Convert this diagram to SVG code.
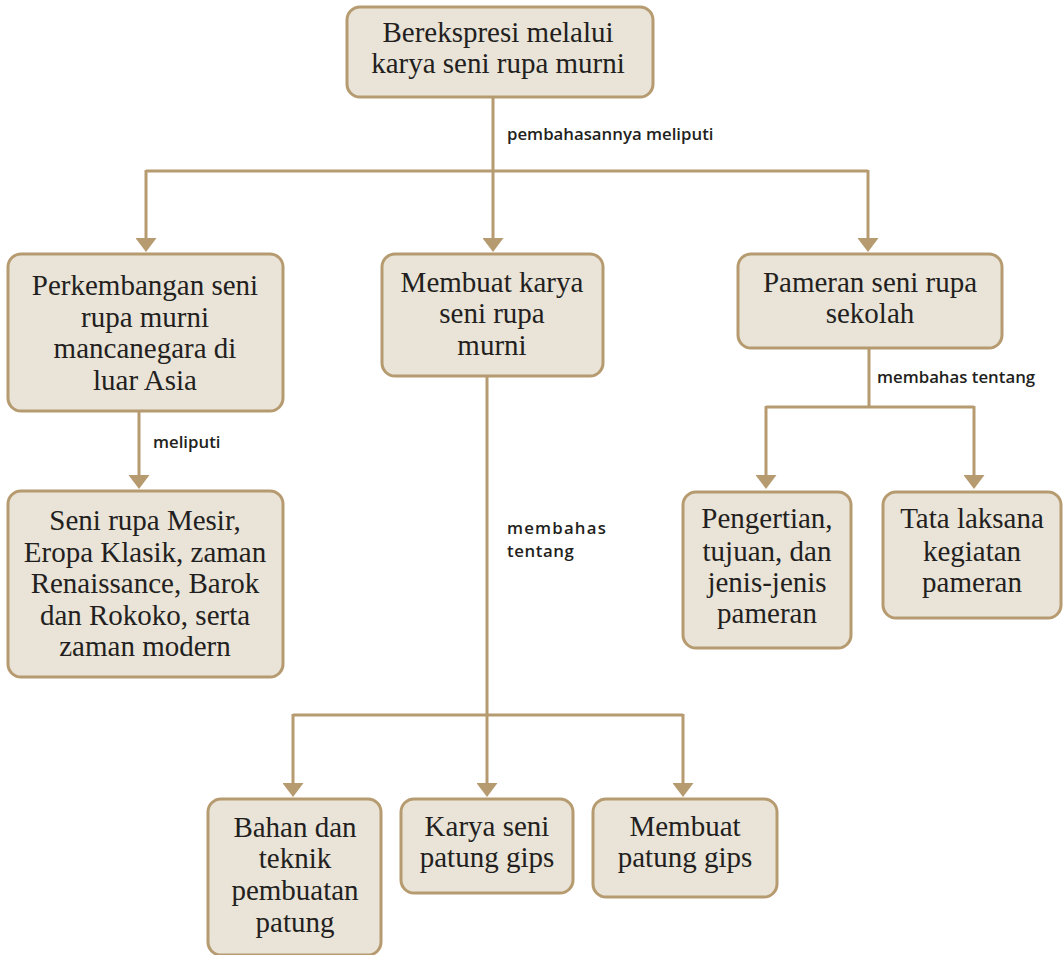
<svg xmlns="http://www.w3.org/2000/svg" width="1063" height="955" viewBox="0 0 1063 955">
<defs>
<marker id="arr" viewBox="0 0 14 21" refX="4" refY="10.5" markerWidth="14" markerHeight="21" markerUnits="userSpaceOnUse" orient="auto">
<path d="M0,0 L14,10.5 L0,21 Z" fill="#b69b70"/>
</marker>
<style>
.box{fill:#e9e3d8;stroke:#b69b70;stroke-width:3}
.t{font-family:"Liberation Serif","Times New Roman",serif;font-size:29px;fill:#231f20;text-anchor:middle}
.lab{font-family:"Open Sans","Liberation Sans",sans-serif;font-weight:600;font-size:16.8px;fill:#231f20}
.c{fill:none;stroke:#b69b70;stroke-width:3}
.a{marker-end:url(#arr)}
</style>
</defs>
<rect width="1063" height="955" fill="#ffffff"/>
<g id="connectors">
<path class="c" d="M493,98 V171 M146,171 H868"/>
<path class="c a" d="M146,170 V242"/>
<path class="c a" d="M493,170 V242"/>
<path class="c a" d="M868,170 V242"/>
<path class="c a" d="M139,411 V479"/>
<path class="c" d="M487,376 V715 M293,715 H683"/>
<path class="c a" d="M293,714 V787"/>
<path class="c a" d="M487,714 V787"/>
<path class="c a" d="M683,714 V787"/>
<path class="c" d="M869,348 V407 M766,407 H974"/>
<path class="c a" d="M766,406 V479"/>
<path class="c a" d="M974,406 V479"/>
<text class="lab" x="507" y="140">pembahasannya meliputi</text>
<text class="lab" x="153" y="448">meliputi</text>
<text class="lab" x="507" y="534" letter-spacing="1.2">membahas</text>
<text class="lab" x="507" y="557" letter-spacing="0.6">tentang</text>
<text class="lab" x="877" y="383">membahas tentang</text>
</g>
<g id="n-root">
<rect class="box" x="347" y="7" width="306" height="90" rx="13"/>
<text class="t" x="498" y="42">Berekspresi melalui</text>
<text class="t" x="498" y="73">karya seni rupa murni</text>
</g>
<g id="n-perkembangan">
<rect class="box" x="8" y="254" width="275" height="157" rx="13"/>
<text class="t" x="145" y="295">Perkembangan seni</text>
<text class="t" x="145" y="327">rupa murni</text>
<text class="t" x="145" y="358">mancanegara di</text>
<text class="t" x="145" y="390">luar Asia</text>
</g>
<g id="n-seni-rupa">
<rect class="box" x="8" y="491" width="275" height="186" rx="13"/>
<text class="t" x="145" y="530">Seni rupa Mesir,</text>
<text class="t" x="145" y="562">Eropa Klasik, zaman</text>
<text class="t" x="145" y="593">Renaissance, Barok</text>
<text class="t" x="145" y="625">dan Rokoko, serta</text>
<text class="t" x="145" y="656">zaman modern</text>
</g>
<g id="n-membuat-karya">
<rect class="box" x="382" y="254" width="221" height="122" rx="13"/>
<text class="t" x="492" y="292">Membuat karya</text>
<text class="t" x="492" y="323">seni rupa</text>
<text class="t" x="492" y="355">murni</text>
</g>
<g id="n-pameran">
<rect class="box" x="738" y="254" width="264" height="94" rx="13"/>
<text class="t" x="870" y="292">Pameran seni rupa</text>
<text class="t" x="870" y="323">sekolah</text>
</g>
<g id="n-pengertian">
<rect class="box" x="683" y="492" width="168" height="156" rx="13"/>
<text class="t" x="767" y="528">Pengertian,</text>
<text class="t" x="767" y="561">tujuan, dan</text>
<text class="t" x="767" y="592">jenis-jenis</text>
<text class="t" x="767" y="623">pameran</text>
</g>
<g id="n-tata">
<rect class="box" x="883" y="492" width="178" height="126" rx="13"/>
<text class="t" x="972" y="528">Tata laksana</text>
<text class="t" x="972" y="561">kegiatan</text>
<text class="t" x="972" y="592">pameran</text>
</g>
<g id="n-bahan">
<rect class="box" x="208" y="799" width="173" height="156" rx="13"/>
<text class="t" x="295" y="837">Bahan dan</text>
<text class="t" x="295" y="868">teknik</text>
<text class="t" x="295" y="900">pembuatan</text>
<text class="t" x="295" y="932">patung</text>
</g>
<g id="n-karya">
<rect class="box" x="401" y="799" width="172" height="94" rx="13"/>
<text class="t" x="487" y="836">Karya seni</text>
<text class="t" x="487" y="867">patung gips</text>
</g>
<g id="n-membuat-patung">
<rect class="box" x="593" y="799" width="184" height="98" rx="13"/>
<text class="t" x="685" y="836">Membuat</text>
<text class="t" x="685" y="867">patung gips</text>
</g>
</svg>
